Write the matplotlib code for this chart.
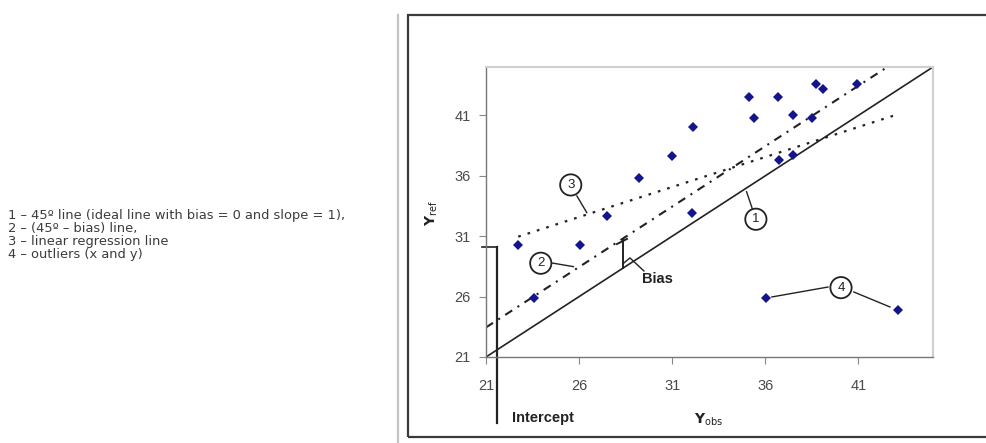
import matplotlib.pyplot as plt
from matplotlib.patches import Rectangle
from matplotlib.lines import Line2D

# measured points (Y_obs, Y_ref)
obs = [22.7, 23.6, 26.05, 27.5, 29.2, 31.0, 32.1, 32.06, 35.1, 35.4,
       36.7, 36.75, 37.5, 37.5, 38.5, 38.7, 39.1, 40.9]
ref = [30.3, 25.85, 30.3, 32.7, 35.8, 37.6, 40.0, 32.9, 42.5, 40.8,
       42.5, 37.3, 41.0, 37.7, 40.8, 43.6, 43.2, 43.6]
outlier_obs = [36.05, 43.1]
outlier_ref = [25.9, 24.9]

ideal_x = [21, 45]
bias = 2.45
bias_x = [21, 42.5]
reg_x = [22.73, 43.0]
reg_y = [30.96, 41.03]
intercept_x = 21.57
intercept_y = 30.13
bias_at = 28.35

ticks = [21, 26, 31, 36, 41]
notes = ["1 \u2013 45\u00ba line (ideal line with bias = 0 and slope = 1),",
         "2 \u2013 (45\u00ba \u2013 bias) line,",
         "3 \u2013 linear regression line",
         "4 \u2013 outliers (x and y)"]

W, H = 987, 443
fig = plt.figure(figsize=(W / 100, H / 100), dpi=100)
fig.patch.set_facecolor('white')

# outer frame
fig.add_artist(Line2D([398 / W, 398 / W], [0, 1 - 15 / H], transform=fig.transFigure,
                      color='#c4c4c4', lw=1.6))
fig.add_artist(Rectangle((408 / W, 6 / H), (W - 400) / W, (437 - 15) / H,
                         transform=fig.transFigure, fill=False, ec='#3a3a3a', lw=1.6))

ax = fig.add_axes([486 / W, 86 / H, (933 - 486) / W, (357 - 67) / H])
ax.set_xlim(21, 45)
ax.set_ylim(21, 45)
for s in ['top', 'right']:
    ax.spines[s].set_color('#d0d0d0')
    ax.spines[s].set_linewidth(1.5)
for s in ['left', 'bottom']:
    ax.spines[s].set_color('#777777')
    ax.spines[s].set_linewidth(1.0)
ax.set_xticks(ticks)
ax.set_yticks(ticks)
ax.tick_params(axis='both', direction='out', length=5, color='#888888',
               labelcolor='#4a4a4a', labelsize=10.5)
ax.tick_params(axis='x', pad=11)
ax.tick_params(axis='y', pad=6)
for lab in ax.get_xticklabels() + ax.get_yticklabels():
    lab.set_family('Liberation Sans')

lc = '#222222'
ax.plot(ideal_x, ideal_x, color=lc, lw=1.2)
ax.plot(bias_x, [v + bias for v in bias_x], color=lc, lw=1.5,
        dashes=(4, 3, 1, 3))
ax.plot(reg_x, reg_y, color=lc, lw=1.6, dashes=(1.2, 3.2))

ax.plot(obs, ref, 'D', color='#14148c', ms=4.8, mew=0)
ax.plot(outlier_obs, outlier_ref, 'D', color='#14148c', ms=4.8, mew=0)

# intercept marker
ax.plot([intercept_x, intercept_x], [intercept_y, 15.5], color=lc, lw=1.6, clip_on=False)
ax.plot([20.77, intercept_x], [intercept_y, intercept_y], color=lc, lw=1.2, clip_on=False)
ax.text(22.38, 15.95, 'Intercept', fontsize=10.5, fontweight='bold', color='#222222',
        family='Liberation Sans', ha='left', va='center')

# bias marker
ax.plot([bias_at, bias_at], [bias_at, bias_at + bias - 0.13], color=lc, lw=1.4)
ax.plot([28.03, 28.57], [30.35, 30.77], color=lc, lw=1.4)
ax.plot([28.34, 28.73, 29.48], [28.70, 29.20, 28.12], color=lc, lw=1.0)
ax.text(29.36, 27.46, 'Bias', fontsize=10.5, fontweight='bold', color='#222222',
        family='Liberation Sans', ha='left', va='center')

# numbered callouts
circ = dict(boxstyle='circle,pad=0.35', fc='white', ec=lc, lw=1.3)
callouts = [('1', 35.49, 32.40, [35.32, 34.99], [33.17, 34.68]),
            ('2', 23.94, 28.76, [24.54, 25.69], [28.78, 28.48]),
            ('3', 25.55, 35.24, [25.88, 26.41], [34.33, 32.95]),
            ('4', 40.06, 26.74, [39.36, 36.35], [26.79, 25.97])]
for num, cx, cy, lx, ly in callouts:
    ax.plot(lx, ly, color=lc, lw=1.0)
    ax.text(cx, cy, num, fontsize=9.5, color='#222222', ha='center', va='center',
            family='Liberation Sans', bbox=circ, zorder=5)
ax.plot([40.75, 42.69], [26.38, 25.14], color=lc, lw=1.0)

fig.text(709 / W, 1 - 420 / H, r'$\mathbf{Y}_{\mathrm{obs}}$', fontsize=10,
         color='#222222', ha='center', va='center')
fig.text(432 / W, 1 - 213 / H, r'$\mathbf{Y}_{\mathrm{ref}}$', fontsize=10,
         color='#222222', ha='center', va='center', rotation=90)

fig.text(8 / W, 1 - 235 / H, '\n'.join(notes), fontsize=9.4, color='#3c3c3c',
         family='DejaVu Sans', ha='left', va='center', linespacing=1.0)

fig.savefig('out.png', dpi=100)
